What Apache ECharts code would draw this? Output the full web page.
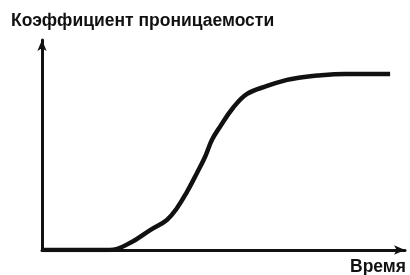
<!DOCTYPE html>
<html>
<head>
<meta charset="utf-8">
<script src="https://cdn.jsdelivr.net/npm/echarts@6/dist/echarts.min.js"></script>
<style>
  html, body { margin: 0; padding: 0; background: #fff; }
  #chart { width: 410px; height: 275px; }
</style>
</head>
<body>
<div id="chart"></div>
<script>
// curve: time (0..100) vs coefficient (0..100)
const timeValues = [0, 18.7, 24.2, 29.8, 34.4, 37.2, 39.9, 42.7, 44.9, 46.8, 49.0, 52.6, 56.5, 62.0, 67.5, 71.1, 75.8, 83.5, 95.9];
const coefValues = [0, 0, 3.3, 9.5, 14.3, 20, 27.6, 36.7, 44.3, 52.4, 58.6, 67.6, 74.3, 78.1, 81, 82.1, 83.1, 83.8, 83.8];
const yTitle = 'Коэффициент проницаемости';
const xTitle = 'Время';

const chart = echarts.init(document.getElementById('chart'));

const points = timeValues.map((t, i) => [t, coefValues[i]]);

const textStyle = {
  fontFamily: 'Liberation Sans',
  fontWeight: 'bold',
  fontSize: 17.5,
  color: '#111'
};

chart.setOption({
  animation: false,
  title: [
    { text: yTitle, left: 11, top: 12, padding: 0, textStyle: textStyle },
    { text: xTitle, right: 4, top: 258, padding: 0, textStyle: textStyle }
  ],
  grid: { left: 42, right: 5, top: 40, bottom: 25 },
  xAxis: {
    type: 'value',
    min: 0,
    max: 100,
    axisLine: {
      onZero: false,
      symbol: ['none', 'arrow'],
      symbolSize: [7, 11],
      lineStyle: { color: '#111', width: 3 }
    },
    axisTick: { show: false },
    axisLabel: { show: false },
    splitLine: { show: false }
  },
  yAxis: {
    type: 'value',
    min: 0,
    max: 100,
    axisLine: {
      show: true,
      symbol: ['none', 'arrow'],
      symbolSize: [7, 11],
      lineStyle: { color: '#111', width: 3 }
    },
    axisTick: { show: false },
    axisLabel: { show: false },
    splitLine: { show: false }
  },
  series: [{
    type: 'line',
    data: points,
    smooth: 0.4,
    showSymbol: false,
    lineStyle: { color: '#111', width: 4.5 }
  }]
});
</script>
</body>
</html>
